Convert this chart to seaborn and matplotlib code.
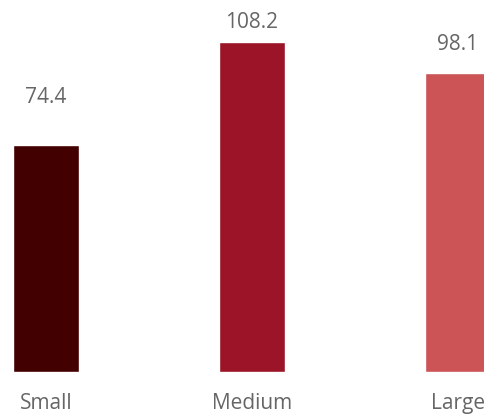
import matplotlib
matplotlib.use("Agg")
import matplotlib.pyplot as plt
import seaborn as sns
import pandas as pd

categories = ["Small", "Medium", "Large"]
values = [74.4, 108.2, 98.1]
bar_colors = ["#420000", "#9b1427", "#cc5356"]

df = pd.DataFrame({"size": categories, "value": values})

sns.set_style("white")
plt.rcParams["font.family"] = ["Open Sans", "DejaVu Sans"]

fig = plt.figure(figsize=(4.85, 4.17), dpi=100)
ax = fig.add_axes([0, 0.108, 1, 0.892])

sns.barplot(data=df, x="size", y="value", hue="size", palette=bar_colors,
            width=0.32, legend=False, saturation=1, ax=ax)

ax.set_xlim(-0.2233, 2.131)
ax.set_ylim(0, 121.97)

# value labels sit between bar top and a fixed line above it
for i, v in enumerate(values):
    ax.text(i, 0.728 * v + 34, f"{v}", ha="center", va="baseline",
            fontsize=15, color="#666666")

ax.set_xlabel("")
ax.set_ylabel("")
ax.set_yticks([])
ax.tick_params(axis="x", length=0, pad=15, labelsize=15, labelcolor="#666666")
sns.despine(ax=ax, left=True, bottom=True)

fig.savefig("out.png", dpi=100)
